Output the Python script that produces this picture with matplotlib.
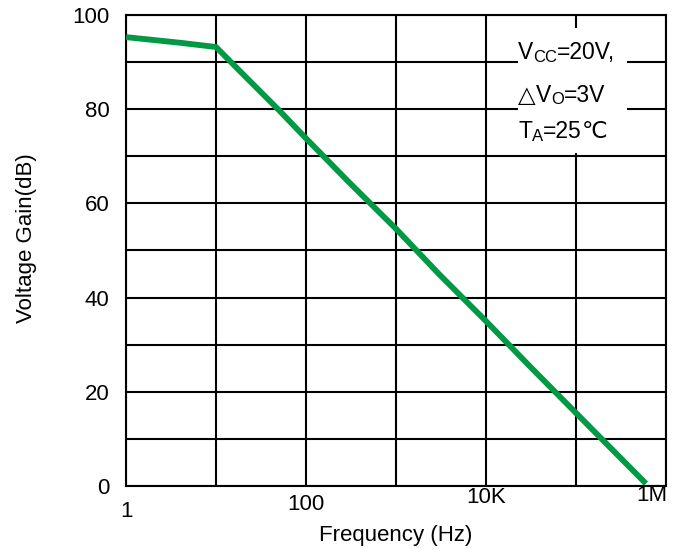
import matplotlib
matplotlib.use('Agg')
import matplotlib.pyplot as plt
import matplotlib.transforms as mtransforms
from matplotlib.patches import Rectangle

FONT = ['Liberation Sans', 'DejaVu Sans', 'Noto Sans CJK SC']
plt.rcParams['font.family'] = FONT

# ── data ────────────────────────────────────────────────────────────────── #
freq_hz  = [1, 2, 4, 10, 20, 50, 100, 300, 1000, 3000, 10000, 30000,
            100000, 300000, 600000]
gain_db  = [95.3, 94.7, 94.1, 93.2, 87.4, 79.8, 73.8, 64.5, 54.6, 45.0,
            35.0, 25.6, 15.5, 6.3, 0.5]
x_ticks  = [1, 100, 10000, 1000000]
x_labels = ['1', '100', '10K', '1M']
y_ticks  = [0, 20, 40, 60, 80, 100]
# note lines: (text, is_subscript)
note_1 = [('V', 0), ('CC', 1), ('=20V,', 0)]
note_2 = [('\u25b3', 0), ('V', 0), ('O', 1), ('=3V', 0)]
note_3 = [('T', 0), ('A', 1), ('=25', 0), ('\u2103', 0)]
note_y = [90.6, 81.6, 73.8]

fig = plt.figure(figsize=(6.82, 5.49), dpi=100)
ax = fig.add_axes([0.1848, 0.1148, 0.7917, 0.8579])

ax.set_xscale('log')
ax.set_xlim(1, 1e6)
ax.set_ylim(0, 100)

# grid: every decade / every 10 dB
ax.set_xticks(x_ticks)
ax.set_xticklabels(x_labels, fontsize=16)
ax.set_yticks(y_ticks)
ax.set_yticklabels([str(v) for v in y_ticks], fontsize=16)
ax.set_xticks([10, 1000, 100000], minor=True)
ax.set_yticks(range(10, 100, 20), minor=True)
ax.xaxis.set_minor_formatter(matplotlib.ticker.NullFormatter())
ax.grid(which='both', color='black', linewidth=1.5)
ax.tick_params(which='both', length=0)
ax.tick_params(axis='x', pad=1)
ax.tick_params(axis='y', pad=12)

# staggered x labels like the original
offsets = [(0, -10), (0, -5), (0, 0), (-10, 2)]
for lbl, (dx, dy) in zip(ax.get_xticklabels(), offsets):
    lbl.set_transform(lbl.get_transform() +
                      mtransforms.ScaledTranslation(dx / 72, dy / 72, fig.dpi_scale_trans))

for s in ax.spines.values():
    s.set_linewidth(1.5)

# white note area over the grid
ax.add_patch(Rectangle((22900, 70.6), 371000 - 22900, 97.3 - 70.6,
                       facecolor='white', edgecolor='none', zorder=2))

renderer = fig.canvas.get_renderer()
for parts, yv in zip([note_1, note_2, note_3], note_y):
    dx = 0.0
    for s, sub in parts:
        size = 12 if sub else 16.5
        dy = -2.0 if sub else 0.0
        tr = ax.get_yaxis_transform() + mtransforms.ScaledTranslation(
            dx / 72, dy / 72, fig.dpi_scale_trans)
        t = ax.text(0.726, yv, s, transform=tr, fontsize=size,
                    va='baseline', ha='left', zorder=4)
        dx += t.get_window_extent(renderer).width * 72 / fig.dpi

ax.plot(freq_hz, gain_db, color='#009944', linewidth=4.2,
        solid_capstyle='butt', zorder=3)

ax.set_xlabel('Frequency (Hz)', fontsize=16, labelpad=2)
ax.set_ylabel('Voltage Gain(dB)', fontsize=16, labelpad=25, y=0.527)

fig.savefig('out.png', dpi=100)
